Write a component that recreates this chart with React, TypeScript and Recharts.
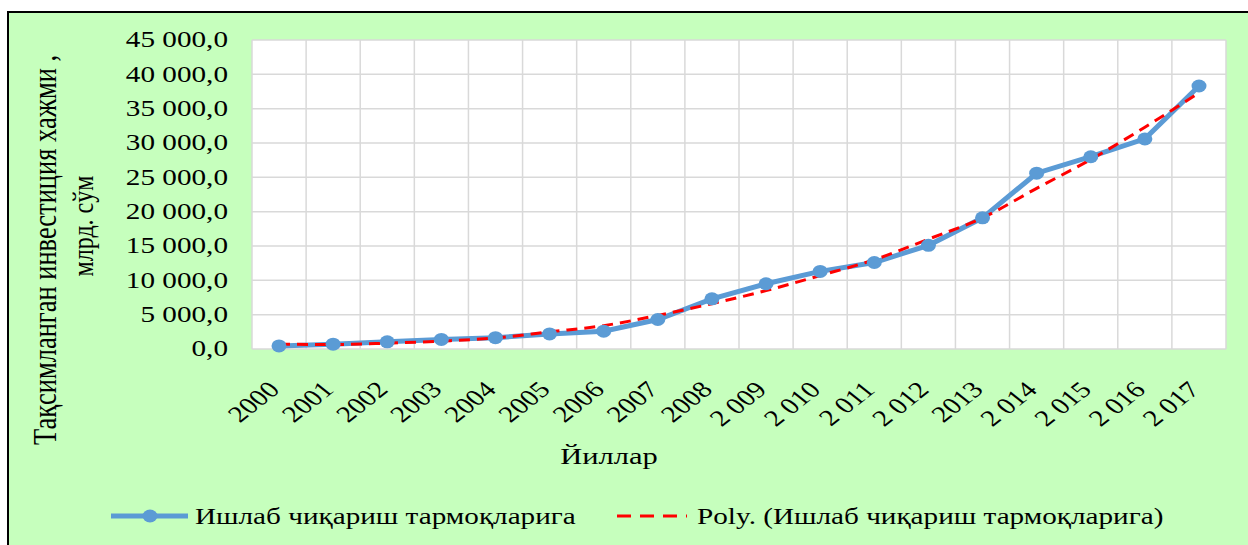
import { LineChart, Line, XAxis, YAxis, CartesianGrid } from "recharts";

const years = [
  "2000", "2001", "2002", "2003", "2004", "2005", "2006", "2007", "2008",
  "2 009", "2 010", "2 011", "2 012", "2013", "2 014", "2 015", "2 016", "2 017",
];
const investment = [
  450, 700, 1050, 1400, 1650, 2200, 2600, 4300, 7300,
  9500, 11300, 12600, 15100, 19100, 25600, 28000, 30600, 38300,
];
const polyTrend = [
  700, 650, 850, 1150, 1600, 2500, 3400, 4900, 6600,
  8500, 10700, 13000, 16000, 19100, 23400, 27600, 32300, 37300,
];
const yTicks = [0, 5000, 10000, 15000, 20000, 25000, 30000, 35000, 40000, 45000];

const seriesName = "Ишлаб чиқариш тармоқларига";
const trendName = "Poly. (Ишлаб чиқариш тармоқларига)";
const yTitle1 = "Тақсимланган инвестиция хажми ,";
const yTitle2 = "млрд. сўм";
const xTitle = "Йиллар";

const data = years.map((year, i) => ({
  year,
  value: investment[i],
  trend: polyTrend[i],
}));

const FONT = '"Liberation Serif", "Times New Roman", serif';
const SX = 1.27; // the source picture is stretched sideways
const BLUE = "#5B9BD5";
const RED = "#FF0000";

const fmt = (v: number) =>
  String(v).replace(/\B(?=(\d{3})+(?!\d))/g, " ") + ",0";

const YTick = ({ x, y, payload }: any) => (
  <g transform={`translate(${x},${y}) scale(${SX},1)`}>
    <text textAnchor="end" dominantBaseline="central" fontSize={23} fontFamily={FONT} fill="#000">
      {fmt(payload.value)}
    </text>
  </g>
);

const XTick = ({ x, y, payload }: any) => (
  <g transform={`translate(${x + 2},${y + 42}) scale(${SX},1)`}>
    <text transform="rotate(-45)" textAnchor="end" fontSize={23} fontFamily={FONT} fill="#000">
      {payload.value}
    </text>
  </g>
);

const Dot = ({ cx, cy, index }: any) => (
  <ellipse key={`dot-${index}`} cx={cx} cy={cy} rx={7.5} ry={6.5} fill={BLUE} />
);

export default function App() {
  return (
    <div style={{ position: "absolute", left: 0, top: 0, width: 1248, height: 545, background: "#fff", overflow: "hidden" }}>
      <div
        style={{
          position: "absolute",
          left: 7,
          top: 11,
          width: 1260,
          height: 560,
          background: "#C6FFBD",
          borderTop: "2px solid #000",
          borderLeft: "2px solid #000",
        }}
      />
      <div style={{ position: "absolute", left: 0, top: 0 }}>
        <LineChart width={1248} height={545} data={data} margin={{ top: 40, right: 22, left: 0, bottom: 96 }}>
          <CartesianGrid
            fill="#fff"
            stroke="#D9D9D9"
            strokeWidth={1.5}
            verticalCoordinatesGenerator={({ offset }: any) =>
              Array.from({ length: years.length + 1 }, (_, i) => offset.left + (i * offset.width) / years.length)
            }
          />
          <XAxis
            dataKey="year"
            interval={0}
            height={100}
            tickLine={false}
            axisLine={false}
            tickSize={0}
            tickMargin={0}
            padding={{ left: 27, right: 27 }}
            tick={<XTick />}
          />
          <YAxis
            width={252}
            domain={[0, 45000]}
            ticks={yTicks}
            interval={0}
            tickLine={false}
            axisLine={false}
            tickSize={0}
            tickMargin={24}
            tick={<YTick />}
          />
          <Line
            dataKey="value"
            name={seriesName}
            type="linear"
            stroke={BLUE}
            strokeWidth={5}
            dot={<Dot />}
            activeDot={false}
            isAnimationActive={false}
          />
          <Line
            dataKey="trend"
            name={trendName}
            type="monotone"
            stroke={RED}
            strokeWidth={3}
            strokeDasharray="11 7"
            dot={false}
            activeDot={false}
            isAnimationActive={false}
          />
        </LineChart>
      </div>
      <svg width={1248} height={545} style={{ position: "absolute", left: 0, top: 0, pointerEvents: "none" }}>
        <g fontFamily={FONT} fill="#000">
          <g transform={`translate(45,250) scale(${SX},1) rotate(-90)`}>
            <text textAnchor="middle" dominantBaseline="central" fontSize={26.5}>{yTitle1}</text>
          </g>
          <g transform={`translate(83,226) scale(${SX},1) rotate(-90)`}>
            <text textAnchor="middle" dominantBaseline="central" fontSize={24}>{yTitle2}</text>
          </g>
          <g transform={`translate(609,464) scale(${SX},1)`}>
            <text textAnchor="middle" fontSize={24}>{xTitle}</text>
          </g>
          {/* legend */}
          <line x1={111} y1={516} x2={188} y2={516} stroke={BLUE} strokeWidth={5} />
          <ellipse cx={150} cy={516} rx={7.5} ry={6.5} fill={BLUE} />
          <g transform={`translate(195,524) scale(${SX},1)`}>
            <text fontSize={23}>{seriesName}</text>
          </g>
          <line x1={617} y1={516} x2={687} y2={516} stroke={RED} strokeWidth={3} strokeDasharray="14 9" />
          <g transform={`translate(697,524) scale(${SX},1)`}>
            <text fontSize={23}>{trendName}</text>
          </g>
        </g>
      </svg>
    </div>
  );
}
